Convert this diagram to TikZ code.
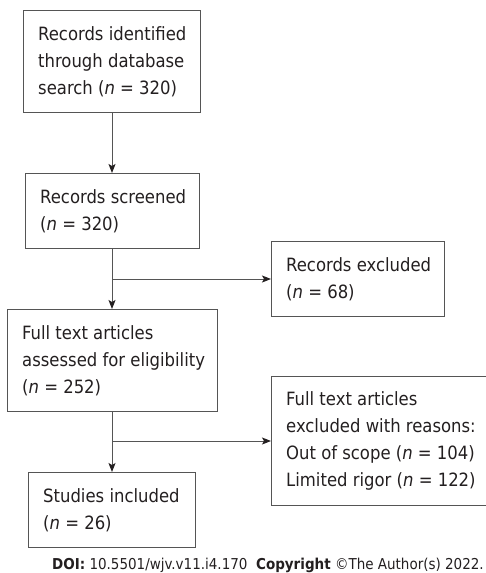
\documentclass[tikz,border=0pt]{standalone}
\usepackage{fontspec}
\setmainfont{DejaVu Sans Condensed}
\usetikzlibrary{arrows.meta}
\definecolor{linegray}{HTML}{555555}
\definecolor{textdark}{HTML}{231F20}
\begin{document}
\begin{tikzpicture}[x=1pt,y=-1pt,
  box/.style={draw=linegray, line width=1pt, anchor=north west, inner sep=0pt},
  txt/.style={anchor=west, align=left, inner xsep=15pt, inner ysep=0pt,
    font=\fontsize{18.3}{27}\selectfont, text=textdark},
  arr/.style={draw=linegray, line width=1pt, -{Stealth[length=9pt,width=7pt,inset=2pt,color=textdark]}},
  ln/.style={draw=linegray, line width=1pt}]
\useasboundingbox (0,0) rectangle (485,573);
\node[box, minimum width=177pt, minimum height=102pt] (b1) at (23,10) {};
\node[txt] (t1) at (b1.west) {Records identified\\through database\\search (\textit{n} = 320)};
\node[box, minimum width=174pt, minimum height=75pt] (b2) at (25,173) {};
\node[txt] (t2) at (b2.west) {Records screened\\(\textit{n} = 320)};
\node[box, minimum width=173pt, minimum height=75pt] (b3) at (271,241) {};
\node[txt] (t3) at (b3.west) {Records excluded\\(\textit{n} = 68)};
\node[box, minimum width=210pt, minimum height=102pt] (b4) at (7,309) {};
\node[txt] (t4) at (b4.west) {Full text articles\\assessed for eligibility\\(\textit{n} = 252)};
\node[box, minimum width=240pt, minimum height=129pt] (b5) at (271,376) {};
\node[txt] (t5) at (b5.west) {Full text articles\\excluded with reasons:\\Out of scope (\textit{n} = 104)\\Limited rigor (\textit{n} = 122)};
\node[box, minimum width=167pt, minimum height=75pt] (b6) at (28,472) {};
\node[txt] (t6) at (b6.west) {Studies included\\(\textit{n} = 26)};
\coordinate (j1) at (112,279);
\coordinate (j2) at (112,441);
\draw[arr] (b1.south -| j1) -- (b2.north -| j1);
\draw[ln] (b2.south -| j1) -- (j1);
\draw[arr] (j1) -- (b4.north -| j1);
\draw[arr] (j1) -- (b3.west |- j1);
\draw[ln] (b4.south -| j2) -- (j2);
\draw[arr] (j2) -- (b6.north -| j2);
\draw[arr] (j2) -- (b5.west |- j2);
\node[anchor=east, inner sep=0pt, font=\fontsize{15}{18}\selectfont, text=textdark] (foot) at (484,565)
  {\textbf{DOI:} 10.5501/wjv.v11.i4.170\ \ \textbf{Copyright} ©The Author(s) 2022.};
\end{tikzpicture}
\end{document}
